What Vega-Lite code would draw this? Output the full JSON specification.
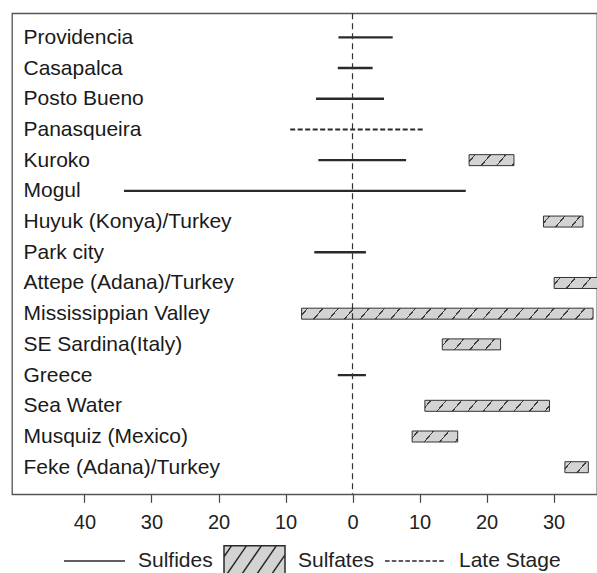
{
  "$schema": "https://vega.github.io/schema/vega-lite/v6.json",
  "autosize": {"type": "none"},
  "width": 585,
  "height": 481,
  "padding": {"left": 12, "top": 13.3, "right": 0, "bottom": 78.7},
  "background": "white",
  "config": {
    "view": {"stroke": "#555555", "strokeWidth": 1.3},
    "font": "Liberation Sans"
  },
  "data": {
    "values": [
      {"site": "Providencia", "kind": "Sulfides", "lo": -2.1, "hi": 6.0},
      {"site": "Casapalca", "kind": "Sulfides", "lo": -2.2, "hi": 3.0},
      {"site": "Posto Bueno", "kind": "Sulfides", "lo": -5.45, "hi": 4.7},
      {"site": "Panasqueira", "kind": "Late Stage", "lo": -9.3, "hi": 10.5},
      {"site": "Kuroko", "kind": "Sulfides", "lo": -5.1, "hi": 8.0},
      {"site": "Kuroko", "kind": "Sulfates", "lo": 17.4, "hi": 24.1},
      {"site": "Mogul", "kind": "Sulfides", "lo": -34.1, "hi": 16.9},
      {"site": "Huyuk (Konya)/Turkey", "kind": "Sulfates", "lo": 28.5, "hi": 34.4},
      {"site": "Park city", "kind": "Sulfides", "lo": -5.7, "hi": 2.0},
      {"site": "Attepe (Adana)/Turkey", "kind": "Sulfates", "lo": 30.1, "hi": 40.0},
      {"site": "Mississippian Valley", "kind": "Sulfates", "lo": -7.6, "hi": 35.9},
      {"site": "SE Sardina(Italy)", "kind": "Sulfates", "lo": 13.4, "hi": 22.1},
      {"site": "Greece", "kind": "Sulfides", "lo": -2.2, "hi": 2.0},
      {"site": "Sea Water", "kind": "Sulfates", "lo": 10.8, "hi": 29.4},
      {"site": "Musquiz (Mexico)", "kind": "Sulfates", "lo": 8.9, "hi": 15.7},
      {"site": "Feke (Adana)/Turkey", "kind": "Sulfates", "lo": 31.7, "hi": 35.2}
    ]
  },
  "encoding": {
    "y": {
      "field": "site",
      "type": "nominal",
      "sort": null,
      "scale": {
        "type": "point",
        "padding": 0.832,
        "align": 0.47,
        "domain": ["Providencia", "Casapalca", "Posto Bueno", "Panasqueira", "Kuroko", "Mogul", "Huyuk (Konya)/Turkey", "Park city", "Attepe (Adana)/Turkey", "Mississippian Valley", "SE Sardina(Italy)", "Greece", "Sea Water", "Musquiz (Mexico)", "Feke (Adana)/Turkey"]
      },
      "axis": {
        "title": null,
        "orient": "left",
        "labelAlign": "left",
        "labelBaseline": "middle",
        "labelPadding": -11,
        "ticks": false,
        "tickSize": 0,
        "domain": false,
        "grid": false,
        "labelFont": "Liberation Sans",
        "labelFontSize": 21,
        "labelColor": "#1a1a1a",
        "labelLimit": 400
      }
    }
  },
  "layer": [
    {
      "transform": [{"filter": "datum.kind === 'Sulfates'"}],
      "mark": {
        "type": "bar",
        "height": 11,
        "clip": true,
        "stroke": "#333333",
        "strokeWidth": 1,
        "fill": {"expr": "{gradient:'linear',x1:0,y1:0,x2:(datum.hi-datum.lo)*(datum.hi-datum.lo+1.4)/((datum.hi-datum.lo)*(datum.hi-datum.lo)+1.96),y2:1.4*(datum.hi-datum.lo+1.4)/((datum.hi-datum.lo)*(datum.hi-datum.lo)+1.96),stops:[{offset:0,color:'#d3d3d3'},{offset:0.79/(datum.hi-datum.lo+1.4),color:'#d3d3d3'},{offset:0.79/(datum.hi-datum.lo+1.4),color:'#3c3c3c'},{offset:1.01/(datum.hi-datum.lo+1.4),color:'#3c3c3c'},{offset:1.01/(datum.hi-datum.lo+1.4),color:'#d3d3d3'},{offset:3.09/(datum.hi-datum.lo+1.4),color:'#d3d3d3'},{offset:3.09/(datum.hi-datum.lo+1.4),color:'#3c3c3c'},{offset:3.31/(datum.hi-datum.lo+1.4),color:'#3c3c3c'},{offset:3.31/(datum.hi-datum.lo+1.4),color:'#d3d3d3'},{offset:5.39/(datum.hi-datum.lo+1.4),color:'#d3d3d3'},{offset:5.39/(datum.hi-datum.lo+1.4),color:'#3c3c3c'},{offset:5.61/(datum.hi-datum.lo+1.4),color:'#3c3c3c'},{offset:5.61/(datum.hi-datum.lo+1.4),color:'#d3d3d3'},{offset:7.69/(datum.hi-datum.lo+1.4),color:'#d3d3d3'},{offset:7.69/(datum.hi-datum.lo+1.4),color:'#3c3c3c'},{offset:7.91/(datum.hi-datum.lo+1.4),color:'#3c3c3c'},{offset:7.91/(datum.hi-datum.lo+1.4),color:'#d3d3d3'},{offset:9.99/(datum.hi-datum.lo+1.4),color:'#d3d3d3'},{offset:9.99/(datum.hi-datum.lo+1.4),color:'#3c3c3c'},{offset:10.21/(datum.hi-datum.lo+1.4),color:'#3c3c3c'},{offset:10.21/(datum.hi-datum.lo+1.4),color:'#d3d3d3'},{offset:12.29/(datum.hi-datum.lo+1.4),color:'#d3d3d3'},{offset:12.29/(datum.hi-datum.lo+1.4),color:'#3c3c3c'},{offset:12.51/(datum.hi-datum.lo+1.4),color:'#3c3c3c'},{offset:12.51/(datum.hi-datum.lo+1.4),color:'#d3d3d3'},{offset:14.59/(datum.hi-datum.lo+1.4),color:'#d3d3d3'},{offset:14.59/(datum.hi-datum.lo+1.4),color:'#3c3c3c'},{offset:14.81/(datum.hi-datum.lo+1.4),color:'#3c3c3c'},{offset:14.81/(datum.hi-datum.lo+1.4),color:'#d3d3d3'},{offset:16.89/(datum.hi-datum.lo+1.4),color:'#d3d3d3'},{offset:16.89/(datum.hi-datum.lo+1.4),color:'#3c3c3c'},{offset:17.11/(datum.hi-datum.lo+1.4),color:'#3c3c3c'},{offset:17.11/(datum.hi-datum.lo+1.4),color:'#d3d3d3'},{offset:19.19/(datum.hi-datum.lo+1.4),color:'#d3d3d3'},{offset:19.19/(datum.hi-datum.lo+1.4),color:'#3c3c3c'},{offset:19.41/(datum.hi-datum.lo+1.4),color:'#3c3c3c'},{offset:19.41/(datum.hi-datum.lo+1.4),color:'#d3d3d3'},{offset:21.49/(datum.hi-datum.lo+1.4),color:'#d3d3d3'},{offset:21.49/(datum.hi-datum.lo+1.4),color:'#3c3c3c'},{offset:21.71/(datum.hi-datum.lo+1.4),color:'#3c3c3c'},{offset:21.71/(datum.hi-datum.lo+1.4),color:'#d3d3d3'},{offset:23.79/(datum.hi-datum.lo+1.4),color:'#d3d3d3'},{offset:23.79/(datum.hi-datum.lo+1.4),color:'#3c3c3c'},{offset:24.01/(datum.hi-datum.lo+1.4),color:'#3c3c3c'},{offset:24.01/(datum.hi-datum.lo+1.4),color:'#d3d3d3'},{offset:26.09/(datum.hi-datum.lo+1.4),color:'#d3d3d3'},{offset:26.09/(datum.hi-datum.lo+1.4),color:'#3c3c3c'},{offset:26.31/(datum.hi-datum.lo+1.4),color:'#3c3c3c'},{offset:26.31/(datum.hi-datum.lo+1.4),color:'#d3d3d3'},{offset:28.39/(datum.hi-datum.lo+1.4),color:'#d3d3d3'},{offset:28.39/(datum.hi-datum.lo+1.4),color:'#3c3c3c'},{offset:28.61/(datum.hi-datum.lo+1.4),color:'#3c3c3c'},{offset:28.61/(datum.hi-datum.lo+1.4),color:'#d3d3d3'},{offset:30.69/(datum.hi-datum.lo+1.4),color:'#d3d3d3'},{offset:30.69/(datum.hi-datum.lo+1.4),color:'#3c3c3c'},{offset:30.91/(datum.hi-datum.lo+1.4),color:'#3c3c3c'},{offset:30.91/(datum.hi-datum.lo+1.4),color:'#d3d3d3'},{offset:32.99/(datum.hi-datum.lo+1.4),color:'#d3d3d3'},{offset:32.99/(datum.hi-datum.lo+1.4),color:'#3c3c3c'},{offset:33.21/(datum.hi-datum.lo+1.4),color:'#3c3c3c'},{offset:33.21/(datum.hi-datum.lo+1.4),color:'#d3d3d3'},{offset:35.29/(datum.hi-datum.lo+1.4),color:'#d3d3d3'},{offset:35.29/(datum.hi-datum.lo+1.4),color:'#3c3c3c'},{offset:35.51/(datum.hi-datum.lo+1.4),color:'#3c3c3c'},{offset:35.51/(datum.hi-datum.lo+1.4),color:'#d3d3d3'},{offset:37.59/(datum.hi-datum.lo+1.4),color:'#d3d3d3'},{offset:37.59/(datum.hi-datum.lo+1.4),color:'#3c3c3c'},{offset:37.81/(datum.hi-datum.lo+1.4),color:'#3c3c3c'},{offset:37.81/(datum.hi-datum.lo+1.4),color:'#d3d3d3'},{offset:39.89/(datum.hi-datum.lo+1.4),color:'#d3d3d3'},{offset:39.89/(datum.hi-datum.lo+1.4),color:'#3c3c3c'},{offset:40.11/(datum.hi-datum.lo+1.4),color:'#3c3c3c'},{offset:40.11/(datum.hi-datum.lo+1.4),color:'#d3d3d3'},{offset:42.19/(datum.hi-datum.lo+1.4),color:'#d3d3d3'},{offset:42.19/(datum.hi-datum.lo+1.4),color:'#3c3c3c'},{offset:42.41/(datum.hi-datum.lo+1.4),color:'#3c3c3c'},{offset:42.41/(datum.hi-datum.lo+1.4),color:'#d3d3d3'},{offset:44.49/(datum.hi-datum.lo+1.4),color:'#d3d3d3'},{offset:44.49/(datum.hi-datum.lo+1.4),color:'#3c3c3c'},{offset:44.71/(datum.hi-datum.lo+1.4),color:'#3c3c3c'},{offset:44.71/(datum.hi-datum.lo+1.4),color:'#d3d3d3'}]}"}
      },
      "encoding": {
        "x": {
          "field": "lo",
          "type": "quantitative",
          "scale": {"domain": [-50.82, 36.49], "nice": false, "zero": false},
          "axis": {
            "title": null,
            "values": [-40, -30, -20, -10, 0, 10, 20, 30],
            "labelExpr": "abs(datum.value)",
            "grid": false,
            "domain": false,
            "ticks": true,
            "tickSize": 8,
            "tickWidth": 1.2,
            "tickColor": "#444444",
            "labelPadding": 10,
            "labelFont": "Liberation Sans",
            "labelFontSize": 20,
            "labelColor": "#222222",
            "labelFlush": false,
            "labelOverlap": false
          }
        },
        "x2": {"field": "hi"}
      }
    },
    {
      "transform": [{"filter": "datum.kind === 'Sulfides'"}],
      "mark": {"type": "rule", "stroke": "#2a2a2a", "strokeWidth": 2.3, "clip": true},
      "encoding": {
        "x": {"field": "lo", "type": "quantitative"},
        "x2": {"field": "hi"}
      }
    },
    {
      "transform": [{"filter": "datum.kind === 'Late Stage'"}],
      "mark": {"type": "rule", "stroke": "#2a2a2a", "strokeWidth": 2, "strokeDash": [5, 2.5], "clip": true},
      "encoding": {
        "x": {"field": "lo", "type": "quantitative"},
        "x2": {"field": "hi"}
      }
    },
    {
      "data": {"values": [{"ref": 0}]},
      "mark": {"type": "rule", "stroke": "#333333", "strokeWidth": 1.2, "strokeDash": [6, 4]},
      "encoding": {
        "x": {"field": "ref", "type": "quantitative"},
        "y": null
      }
    },
    {
      "transform": [{"filter": "false"}],
      "mark": {"type": "point", "stroke": "#2a2a2a", "strokeWidth": 1.5, "opacity": 1},
      "encoding": {
        "x": {"field": "lo", "type": "quantitative"},
        "fill": {
          "field": "kind",
          "type": "nominal",
          "scale": {
            "domain": ["Sulfides", "Sulfates", "Late Stage"],
            "range": ["#d3d3d3", "#d3d3d3", "#d3d3d3"]
          },
          "legend": {
            "title": null,
            "orient": "none",
            "direction": "horizontal",
            "legendX": 51,
            "legendY": 516,
            "symbolSize": 3721,
            "labelFont": "Liberation Sans",
            "labelFontSize": 21,
            "labelColor": "#222222",
            "labelOffset": 12,
            "columnPadding": 8,
            "labelLimit": 300
          }
        },
        "shape": {
          "field": "kind",
          "type": "nominal",
          "scale": {
            "domain": ["Sulfides", "Sulfates", "Late Stage"],
            "range": [
              "M-1,-0.5M1,0.5M-1,0H1",
              "M-1,-0.5H1V0.5H-1Z M-1,-0.138L-0.75,-0.5 M-0.95,0.5L-0.26,-0.5 M-0.46,0.5L0.23,-0.5 M0.03,0.5L0.72,-0.5 M0.52,0.5L1,-0.196",
              "M-1,-0.5M1,0.5M-1,0H-0.85M-0.778,0H-0.628M-0.556,0H-0.406M-0.333,0H-0.183M-0.111,0H0.039M0.111,0H0.261M0.333,0H0.483M0.556,0H0.706M0.778,0H0.928"
            ]
          },
          "legend": {
            "title": null,
            "orient": "none",
            "direction": "horizontal",
            "legendX": 51,
            "legendY": 516,
            "symbolSize": 3721,
            "labelFont": "Liberation Sans",
            "labelFontSize": 21,
            "labelColor": "#222222",
            "labelOffset": 12,
            "columnPadding": 8,
            "labelLimit": 300,
            "encode": {
              "symbols": {
                "update": {
                  "stroke": {"value": "#2a2a2a"},
                  "strokeWidth": {"signal": "datum.value === 'Sulfates' ? 1 : 2.2"},
                  "opacity": {"value": 1}
                }
              }
            }
          }
        }
      }
    }
  ]
}
